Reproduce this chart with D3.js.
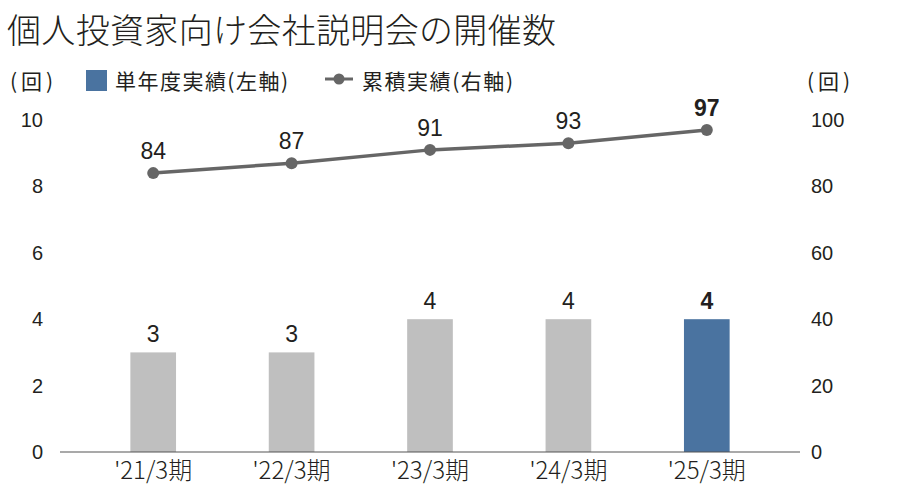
<!DOCTYPE html>
<html>
<head>
<meta charset="utf-8">
<script src="https://cdn.jsdelivr.net/npm/d3@7"></script>
<style>
  body { margin: 0; background: #fff; }
  svg text { fill: #231f20; }
  .num { font-family: "Liberation Sans", Arial, sans-serif; }
  .jp { font-family: "Noto Sans CJK JP", sans-serif; }
  .axis path, .axis line { display: none; }
</style>
</head>
<body>
<svg id="chart" width="900" height="501"></svg>
<script>
const categories = ["'21/3期", "'22/3期", "'23/3期", "'24/3期", "'25/3期"];
const annual = [3, 3, 4, 4, 4];
const cumulative = [84, 87, 91, 93, 97];
const leftTicks = [0, 2, 4, 6, 8, 10];
const rightTicks = [0, 20, 40, 60, 80, 100];

const svg = d3.select('#chart');

const x = d3.scaleBand()
    .domain(categories)
    .range([84, 776])
    .paddingInner(0.67)
    .paddingOuter(0.335);

const yL = d3.scaleLinear().domain([0, 10]).range([452, 120]);
const yR = d3.scaleLinear().domain([0, 100]).range([452, 120]);

// titre
svg.append('text')
    .attr('class', 'jp')
    .attr('x', 7)
    .attr('y', 43)
    .attr('font-size', 34)
    .attr('font-weight', 300)
    .attr('textLength', 549)
    .text('個人投資家向け会社説明会の開催数');

// legende
const legendText = (tx, ty, txt, len) => svg.append('text')
    .attr('class', 'jp')
    .attr('x', tx).attr('y', ty)
    .attr('font-size', 21)
    .attr('textLength', len)
    .attr('lengthAdjust', 'spacing')
    .text(txt);

legendText(10, 89, '(回)', 43);
legendText(807, 89, '(回)', 43);

svg.append('rect').attr('x', 86).attr('y', 70).attr('width', 21).attr('height', 21)
    .attr('fill', '#4a73a0');
legendText(115, 89, '単年度実績(左軸)', 173);

svg.append('line').attr('x1', 325).attr('x2', 353).attr('y1', 79).attr('y2', 79)
    .attr('stroke', '#666').attr('stroke-width', 3);
svg.append('circle').attr('cx', 339).attr('cy', 79).attr('r', 5.5).attr('fill', '#666');
legendText(362, 89, '累積実績(右軸)', 151);

// axes
svg.append('g')
    .attr('class', 'axis num')
    .attr('transform', 'translate(43,0)')
    .call(d3.axisLeft(yL).tickValues(leftTicks).tickSize(0).tickPadding(0))
    .call(g => g.selectAll('text').attr('font-size', 20).attr('font-family', '"Liberation Sans", Arial, sans-serif'));

svg.append('g')
    .attr('class', 'axis num')
    .attr('transform', 'translate(811,0)')
    .call(d3.axisRight(yR).tickValues(rightTicks).tickSize(0).tickPadding(0))
    .call(g => g.selectAll('text').attr('font-size', 20).attr('font-family', '"Liberation Sans", Arial, sans-serif'));

// barres
svg.selectAll('.bar')
    .data(annual)
    .enter()
    .append('rect')
    .attr('class', 'bar')
    .attr('x', (d, i) => x(categories[i]))
    .attr('y', d => yL(d))
    .attr('width', x.bandwidth())
    .attr('height', d => yL(0) - yL(d))
    .attr('fill', (d, i) => i === annual.length - 1 ? '#4a73a0' : '#bfbfbf');

svg.selectAll('.barlabel')
    .data(annual)
    .enter()
    .append('text')
    .attr('class', 'num')
    .attr('x', (d, i) => x(categories[i]) + x.bandwidth() / 2)
    .attr('y', d => yL(d) - 10)
    .attr('text-anchor', 'middle')
    .attr('font-size', 23)
    .attr('font-weight', (d, i) => i === annual.length - 1 ? 'bold' : 'normal')
    .text(d => d);

// ligne de base
svg.append('line')
    .attr('x1', 60).attr('x2', 800)
    .attr('y1', yL(0)).attr('y2', yL(0))
    .attr('stroke', '#555').attr('stroke-width', 1.2);

// etiquettes x
svg.selectAll('.xlabel')
    .data(categories)
    .enter()
    .append('text')
    .attr('class', 'jp')
    .attr('x', d => x(d) + x.bandwidth() / 2)
    .attr('y', 479)
    .attr('text-anchor', 'middle')
    .attr('font-size', 24)
    .attr('font-weight', 300)
    .text(d => d);

// courbe cumul
const line = d3.line()
    .x((d, i) => x(categories[i]) + x.bandwidth() / 2)
    .y(d => yR(d));

svg.append('path')
    .datum(cumulative)
    .attr('d', line)
    .attr('fill', 'none')
    .attr('stroke', '#666')
    .attr('stroke-width', 3.5);

svg.selectAll('.pt')
    .data(cumulative)
    .enter()
    .append('circle')
    .attr('cx', (d, i) => x(categories[i]) + x.bandwidth() / 2)
    .attr('cy', d => yR(d))
    .attr('r', 6)
    .attr('fill', '#666');

svg.selectAll('.ptlabel')
    .data(cumulative)
    .enter()
    .append('text')
    .attr('class', 'num')
    .attr('x', (d, i) => x(categories[i]) + x.bandwidth() / 2)
    .attr('y', d => yR(d) - 14)
    .attr('text-anchor', 'middle')
    .attr('font-size', 23)
    .attr('font-weight', (d, i) => i === cumulative.length - 1 ? 'bold' : 'normal')
    .text(d => d);
</script>
</body>
</html>
